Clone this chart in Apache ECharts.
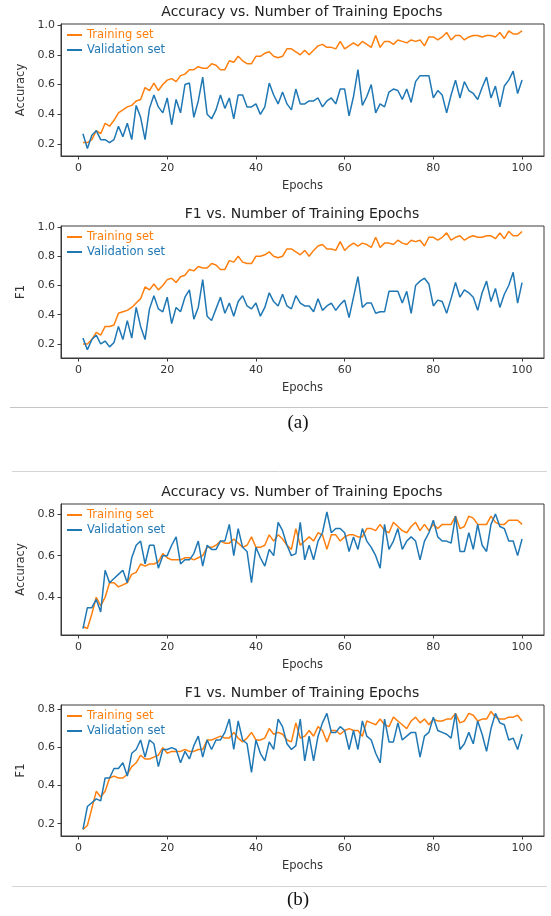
<!DOCTYPE html>
<html><head><meta charset="utf-8">
<script src="https://cdn.jsdelivr.net/npm/echarts@6/dist/echarts.min.js"></script>
<style>html,body{margin:0;padding:0;background:#fff}#c{width:551px;height:916px}</style>
</head><body><div id="c"></div>
<script>
const xTicks = [0, 20, 40, 60, 80, 100];
const yTicksA = [0.2, 0.4, 0.6, 0.8, 1.0];
const yTicksB1 = [0.4, 0.6, 0.8];
const yTicksB2 = [0.2, 0.4, 0.6, 0.8];
const titles = ["Accuracy vs. Number of Training Epochs", "F1 vs. Number of Training Epochs",
                "Accuracy vs. Number of Training Epochs", "F1 vs. Number of Training Epochs"];
const yNames = ["Accuracy", "F1", "Accuracy", "F1"];
const seriesNames = ["Training set", "Validation set"];
const panelLabels = ["(a)", "(b)"];

const accTrainA = [0.21,0.21,0.23,0.29,0.27,0.34,0.32,0.36,0.41,0.43,
0.45,0.46,0.49,0.50,0.58,0.56,0.61,0.56,0.60,0.63,
0.64,0.62,0.66,0.67,0.70,0.70,0.72,0.71,0.71,0.74,
0.73,0.70,0.70,0.76,0.75,0.79,0.76,0.74,0.74,0.79,
0.79,0.81,0.82,0.79,0.78,0.79,0.84,0.84,0.82,0.80,
0.83,0.80,0.83,0.86,0.87,0.85,0.85,0.84,0.89,0.84,
0.86,0.88,0.86,0.89,0.87,0.85,0.93,0.85,0.89,0.89,
0.87,0.90,0.89,0.88,0.90,0.89,0.90,0.86,0.92,0.92,
0.90,0.92,0.95,0.90,0.93,0.93,0.90,0.92,0.93,0.93,
0.92,0.93,0.93,0.92,0.95,0.91,0.96,0.94,0.94,0.96];
const accValA = [0.27,0.17,0.26,0.29,0.23,0.23,0.21,0.23,0.32,0.25,
0.34,0.23,0.46,0.38,0.23,0.44,0.53,0.45,0.41,0.51,
0.33,0.50,0.41,0.60,0.61,0.38,0.49,0.65,0.40,0.37,
0.43,0.53,0.44,0.51,0.37,0.53,0.53,0.45,0.45,0.47,
0.40,0.45,0.61,0.53,0.47,0.55,0.47,0.43,0.57,0.47,
0.47,0.49,0.49,0.51,0.45,0.49,0.51,0.47,0.57,0.57,
0.39,0.52,0.70,0.46,0.52,0.60,0.41,0.47,0.45,0.55,
0.57,0.56,0.50,0.57,0.48,0.62,0.66,0.66,0.66,0.51,
0.56,0.53,0.41,0.53,0.63,0.51,0.62,0.56,0.54,0.50,
0.58,0.65,0.51,0.59,0.45,0.59,0.63,0.69,0.54,0.63];
const f1TrainA = [0.20,0.20,0.23,0.28,0.26,0.32,0.32,0.33,0.41,0.42,
0.43,0.45,0.48,0.51,0.59,0.57,0.61,0.57,0.60,0.64,
0.65,0.62,0.66,0.67,0.71,0.70,0.73,0.72,0.72,0.75,
0.74,0.71,0.71,0.77,0.76,0.80,0.76,0.75,0.75,0.80,
0.80,0.81,0.83,0.80,0.79,0.80,0.85,0.85,0.83,0.81,
0.84,0.80,0.84,0.87,0.88,0.85,0.85,0.84,0.90,0.84,
0.87,0.89,0.87,0.89,0.88,0.86,0.93,0.86,0.89,0.89,
0.88,0.91,0.89,0.88,0.91,0.90,0.91,0.87,0.93,0.93,
0.91,0.93,0.96,0.91,0.93,0.94,0.91,0.93,0.94,0.93,
0.93,0.94,0.94,0.92,0.96,0.92,0.97,0.94,0.94,0.97];
const f1ValA = [0.24,0.16,0.23,0.26,0.20,0.22,0.18,0.21,0.32,0.23,
0.36,0.24,0.45,0.32,0.23,0.44,0.53,0.44,0.42,0.52,
0.34,0.45,0.42,0.52,0.57,0.37,0.45,0.64,0.39,0.36,
0.44,0.52,0.41,0.48,0.39,0.49,0.53,0.46,0.44,0.48,
0.39,0.45,0.55,0.49,0.46,0.54,0.46,0.44,0.53,0.48,
0.46,0.46,0.42,0.51,0.43,0.46,0.48,0.43,0.47,0.50,
0.38,0.52,0.66,0.45,0.48,0.48,0.41,0.42,0.42,0.56,
0.56,0.56,0.48,0.56,0.41,0.60,0.63,0.65,0.61,0.46,
0.50,0.49,0.41,0.51,0.62,0.52,0.57,0.55,0.52,0.43,
0.55,0.63,0.49,0.58,0.45,0.54,0.60,0.69,0.48,0.62];
const accTrainB = [0.26,0.25,0.32,0.40,0.36,0.40,0.47,0.47,0.45,0.46,
0.47,0.51,0.52,0.56,0.55,0.56,0.56,0.57,0.61,0.59,
0.58,0.58,0.58,0.59,0.59,0.58,0.59,0.60,0.64,0.64,
0.65,0.67,0.66,0.66,0.68,0.66,0.64,0.65,0.69,0.64,
0.64,0.65,0.70,0.67,0.70,0.68,0.65,0.63,0.73,0.65,
0.67,0.69,0.67,0.71,0.70,0.63,0.70,0.70,0.67,0.69,
0.70,0.70,0.69,0.69,0.73,0.73,0.72,0.75,0.72,0.71,
0.76,0.74,0.72,0.71,0.74,0.76,0.72,0.75,0.72,0.75,
0.73,0.75,0.75,0.75,0.79,0.73,0.74,0.79,0.78,0.75,
0.75,0.75,0.79,0.76,0.75,0.75,0.77,0.77,0.77,0.75];
const accValB = [0.25,0.35,0.35,0.39,0.33,0.53,0.47,0.49,0.51,0.53,
0.47,0.59,0.65,0.67,0.56,0.65,0.65,0.54,0.60,0.60,
0.65,0.69,0.56,0.58,0.58,0.61,0.67,0.55,0.65,0.63,
0.63,0.67,0.67,0.75,0.60,0.73,0.64,0.62,0.47,0.64,
0.59,0.55,0.63,0.60,0.76,0.72,0.65,0.60,0.61,0.76,
0.58,0.65,0.58,0.67,0.71,0.81,0.71,0.73,0.73,0.71,
0.62,0.69,0.63,0.73,0.67,0.64,0.60,0.54,0.75,0.63,
0.67,0.73,0.63,0.67,0.69,0.67,0.58,0.67,0.71,0.77,
0.69,0.67,0.67,0.66,0.79,0.62,0.62,0.71,0.63,0.75,
0.65,0.62,0.75,0.80,0.74,0.73,0.67,0.67,0.60,0.68];
const f1TrainB = [0.17,0.19,0.28,0.37,0.34,0.37,0.44,0.45,0.44,0.44,
0.46,0.50,0.52,0.56,0.54,0.54,0.55,0.56,0.60,0.57,
0.58,0.58,0.58,0.59,0.58,0.58,0.59,0.59,0.64,0.64,
0.65,0.66,0.65,0.65,0.68,0.65,0.63,0.65,0.68,0.64,
0.64,0.65,0.70,0.67,0.68,0.67,0.64,0.63,0.73,0.65,
0.66,0.69,0.66,0.71,0.69,0.63,0.69,0.69,0.67,0.69,
0.70,0.69,0.69,0.66,0.74,0.73,0.72,0.75,0.72,0.71,
0.76,0.74,0.72,0.70,0.74,0.76,0.73,0.75,0.72,0.75,
0.74,0.74,0.75,0.75,0.78,0.73,0.74,0.78,0.77,0.74,
0.75,0.75,0.79,0.76,0.75,0.75,0.76,0.76,0.77,0.74];
const f1ValB = [0.17,0.29,0.31,0.33,0.32,0.44,0.44,0.49,0.49,0.52,
0.45,0.57,0.59,0.64,0.55,0.64,0.62,0.50,0.59,0.59,
0.60,0.59,0.52,0.58,0.54,0.61,0.66,0.55,0.64,0.59,
0.64,0.64,0.68,0.75,0.59,0.74,0.64,0.62,0.47,0.64,
0.57,0.53,0.63,0.59,0.75,0.71,0.62,0.59,0.61,0.75,
0.53,0.66,0.53,0.66,0.73,0.78,0.68,0.68,0.71,0.69,
0.59,0.69,0.59,0.74,0.66,0.64,0.57,0.52,0.75,0.63,
0.63,0.73,0.64,0.66,0.68,0.68,0.55,0.66,0.68,0.76,
0.69,0.68,0.67,0.65,0.78,0.59,0.62,0.68,0.62,0.74,
0.67,0.58,0.70,0.78,0.73,0.72,0.64,0.65,0.59,0.67];

const FONT = 'DejaVu Sans';
const ORANGE = '#ff7f0e', BLUE = '#1f77b4';
const panels = [
  {train: accTrainA, val: accValA, top: 24, h: 132, min: 0.12, max: 1.007, ticks: yTicksA},
  {train: f1TrainA, val: f1ValA, top: 226, h: 132, min: 0.104, max: 1.007, ticks: yTicksA},
  {train: accTrainB, val: accValB, top: 504, h: 131, min: 0.219, max: 0.848, ticks: yTicksB1},
  {train: f1TrainB, val: f1ValB, top: 705, h: 131, min: 0.135, max: 0.824, ticks: yTicksB2}
];
const toPairs = arr => arr.map((v, i) => [i + 1, v]);

const option = {
  animation: false,
  backgroundColor: '#fff',
  textStyle: {fontFamily: FONT},
  title: panels.map((p, i) => ({
    text: titles[i], left: 302, top: p.top - 19, textAlign: 'center', padding: 0,
    textStyle: {fontSize: 14, fontWeight: 'normal', color: '#222', fontFamily: FONT}
  })),
  legend: panels.map((p, i) => ({
    orient: 'vertical', left: 67, top: p.top + 5, itemGap: 3, padding: 0,
    itemWidth: 15, itemHeight: 2, icon: 'rect',
    textStyle: {fontSize: 11.5, fontFamily: FONT},
    data: [{name: seriesNames[0], textStyle: {color: ORANGE}},
           {name: seriesNames[1], textStyle: {color: BLUE}}],
    selectedMode: false
  })),
  grid: panels.map(p => ({left: 61, width: 483, top: p.top, height: p.h,
    show: true, borderColor: '#3a3a3a', borderWidth: 1, backgroundColor: 'transparent'})),
  xAxis: panels.map((p, i) => ({
    type: 'value', gridIndex: i, min: -3.95, max: 104.95,
    name: 'Epochs', nameLocation: 'middle', nameGap: 24,
    nameTextStyle: {fontSize: 11.5, color: '#333', fontFamily: FONT},
    axisLine: {show: true, onZero: false, lineStyle: {color: '#3a3a3a'}},
    axisTick: {show: true, length: 3.5, lineStyle: {color: '#3a3a3a'}, customValues: xTicks},
    axisLabel: {fontSize: 11, color: '#333', margin: 7, customValues: xTicks, fontFamily: FONT},
    splitLine: {show: false}
  })),
  yAxis: panels.map((p, i) => ({
    type: 'value', gridIndex: i, min: p.min, max: p.max,
    name: yNames[i], nameLocation: 'middle', nameGap: 32,
    nameTextStyle: {fontSize: 11.5, color: '#333', fontFamily: FONT},
    axisLine: {show: true, onZero: false, lineStyle: {color: '#3a3a3a'}},
    axisTick: {show: true, length: 3.5, lineStyle: {color: '#3a3a3a'}, customValues: p.ticks},
    axisLabel: {fontSize: 11, color: '#333', margin: 6, customValues: p.ticks,
      formatter: v => v.toFixed(1), fontFamily: FONT},
    splitLine: {show: false}
  })),
  series: panels.flatMap((p, i) => [
    {name: seriesNames[0], type: 'line', xAxisIndex: i, yAxisIndex: i, data: toPairs(p.train),
     showSymbol: false, symbol: 'none', lineStyle: {color: ORANGE, width: 1.5}, itemStyle: {color: ORANGE}},
    {name: seriesNames[1], type: 'line', xAxisIndex: i, yAxisIndex: i, data: toPairs(p.val),
     showSymbol: false, symbol: 'none', lineStyle: {color: BLUE, width: 1.5}, itemStyle: {color: BLUE}}
  ]),
  graphic: [
    {type: 'line', shape: {x1: 10, y1: 407.5, x2: 548, y2: 407.5}, style: {stroke: '#c4c4c4', lineWidth: 1}},
    {type: 'line', shape: {x1: 12, y1: 471.5, x2: 547, y2: 471.5}, style: {stroke: '#d4d4d4', lineWidth: 1}},
    {type: 'line', shape: {x1: 12, y1: 886.5, x2: 547, y2: 886.5}, style: {stroke: '#d4d4d4', lineWidth: 1}},
    {type: 'text', x: 298, y: 423, style: {text: panelLabels[0], font: '19px "Liberation Serif"', fill: '#111', align: 'center', verticalAlign: 'middle'}},
    {type: 'text', x: 298, y: 900, style: {text: panelLabels[1], font: '19px "Liberation Serif"', fill: '#111', align: 'center', verticalAlign: 'middle'}}
  ]
};
const chart = echarts.init(document.getElementById('c'), null, {renderer: 'canvas'});
chart.setOption(option);
</script></body></html>
